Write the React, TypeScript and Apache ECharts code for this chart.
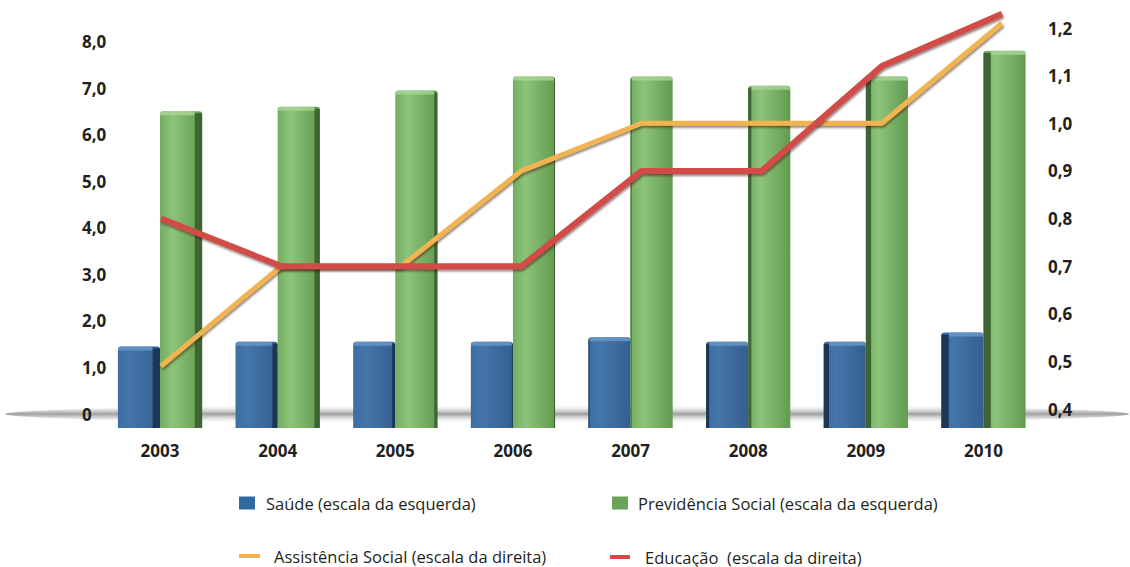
import React, { useEffect, useRef } from 'react';
import * as echarts from 'echarts';

// ---- data ----
const years = ['2003', '2004', '2005', '2006', '2007', '2008', '2009', '2010'];
const saude = [1.45, 1.55, 1.55, 1.55, 1.65, 1.55, 1.55, 1.75];
const previdencia = [6.5, 6.6, 6.95, 7.25, 7.25, 7.05, 7.25, 7.8];
const assistencia = [0.49, 0.7, 0.7, 0.9, 1.0, 1.0, 1.0, 1.21];
const educacao = [0.8, 0.7, 0.7, 0.7, 0.9, 0.9, 1.12, 1.23];

const nameSaude = 'Saúde (escala da esquerda)';
const namePrev = 'Previdência Social (escala da esquerda)';
const nameAssist = 'Assistência Social (escala da direita)';
const nameEduc = 'Educação  (escala da direita)';

const TEXT = '#231f20';
const FONT = "'Open Sans', 'Noto Sans', sans-serif";
const FLOOR = 14; // depth of the 3-D floor below the zero line (style)

const fmt = (v: number) => (v === 0 ? '0' : v.toFixed(1).replace('.', ','));

type Palette = { light: string; mid: string; dark: string; side: string; cap: string };
const bluePal: Palette = { light: '#4476aa', mid: '#3d6ea1', dark: '#345f8e', side: '#1e3653', cap: '#6a98c8' };
const greenPal: Palette = { light: '#8cc47a', mid: '#74ad62', dark: '#629b50', side: '#3f6433', cap: '#a9d696' };

function makeBar(p: Palette, leftSide: boolean) {
  return (params: any, api: any) => {
    const idx = api.value(0);
    const val = api.value(1);
    const top = api.coord([idx, val]);
    const base = api.coord([idx, 0]);
    const band = api.size([1, 0])[0];
    const w = band * 0.358;
    const x0 = leftSide ? top[0] - w : top[0];
    const y0 = top[1];
    const y1 = base[1] + FLOOR;
    const h = y1 - y0;
    const depth = (idx - 3.5) * 2.1;
    const sw = Math.abs(depth);
    const sx = depth < 0 ? x0 + w - sw : x0;
    const fx = depth < 0 ? x0 : x0 + sw;
    return {
      type: 'group',
      children: [
        {
          type: 'rect',
          shape: { x: x0, y: y0, width: w, height: h, r: [3, 3, 0, 0] },
          style: {
            fill: new echarts.graphic.LinearGradient(0, 0, 1, 0, [
              { offset: 0, color: p.mid },
              { offset: 0.3, color: p.light },
              { offset: 1, color: p.dark },
            ]),
          },
        },
        {
          type: 'rect',
          shape: { x: sx, y: y0 + 2, width: sw, height: h - 2 },
          style: { fill: p.side },
        },
        {
          type: 'rect',
          shape: { x: fx, y: y0, width: w - sw, height: 4, r: [3, 3, 0, 0] },
          style: { fill: p.cap, opacity: 0.8 },
        },
      ],
    };
  };
}

export default function App() {
  const ref = useRef<HTMLDivElement>(null);
  useEffect(() => {
    if (!ref.current) return;
    const chart = echarts.init(ref.current, undefined, { renderer: 'svg' });
    const legendText = { fontSize: 16.5, fontFamily: FONT, color: TEXT, lineHeight: 18 };
    chart.setOption({
      animation: false,
      backgroundColor: '#ffffff',
      graphic: [
        {
          type: 'ellipse',
          z: 0,
          silent: true,
          shape: { cx: 567, cy: 414, rx: 562, ry: 10 },
          style: {
            fill: new echarts.graphic.LinearGradient(0, 0, 0, 1, [
              { offset: 0, color: 'rgba(255,255,255,0)' },
              { offset: 0.5, color: 'rgba(125,125,125,0.75)' },
              { offset: 1, color: 'rgba(255,255,255,0)' },
            ]),
          },
        },
      ],
      grid: [
        { left: 101.2, right: 87.7, top: 41.5, bottom: 153 },
        { left: 101, right: 68, top: 28, bottom: 158 },
      ],
      xAxis: [
        {
          gridIndex: 0,
          type: 'category',
          data: years,
          axisLine: { show: false },
          axisTick: { show: false },
          axisLabel: { margin: 28, fontSize: 17, fontWeight: 'bold', color: TEXT, fontFamily: FONT },
        },
        { gridIndex: 1, type: 'category', data: years, show: false },
      ],
      yAxis: [
        {
          gridIndex: 0,
          type: 'value',
          position: 'left',
          min: 0,
          max: 8,
          interval: 1,
          axisLine: { show: false },
          axisTick: { show: false },
          splitLine: { show: false },
          axisLabel: {
            align: 'left',
            margin: 19.2,
            fontSize: 17,
            fontWeight: 'bold',
            color: TEXT,
            fontFamily: FONT,
            formatter: fmt,
          },
        },
        {
          gridIndex: 1,
          type: 'value',
          position: 'right',
          min: 0.4,
          max: 1.2,
          interval: 0.1,
          axisLine: { show: false },
          axisTick: { show: false },
          splitLine: { show: false },
          axisLabel: {
            align: 'left',
            margin: -14,
            fontSize: 17,
            fontWeight: 'bold',
            color: TEXT,
            fontFamily: FONT,
            formatter: fmt,
          },
        },
      ],
      legend: [
        {
          data: [nameSaude], left: 239, top: 494, padding: 0, icon: 'rect',
          itemWidth: 16, itemHeight: 13, textStyle: { ...legendText, padding: [0, 0, 0, 6] },
        },
        {
          data: [namePrev], left: 612, top: 494, padding: 0, icon: 'rect',
          itemWidth: 16, itemHeight: 13, textStyle: { ...legendText, padding: [0, 0, 0, 5] },
        },
        {
          data: [nameAssist], left: 239, top: 547, padding: 0, icon: 'rect',
          itemWidth: 21, itemHeight: 4, textStyle: { ...legendText, padding: [0, 0, 0, 9] },
        },
        {
          data: [nameEduc], left: 610, top: 548, padding: 0, icon: 'rect',
          itemWidth: 20, itemHeight: 4, textStyle: { ...legendText, padding: [0, 0, 0, 10] },
        },
      ],
      series: [
        {
          name: nameSaude,
          type: 'custom',
          xAxisIndex: 0,
          yAxisIndex: 0,
          itemStyle: { color: '#2f6aa2' },
          renderItem: makeBar(bluePal, true),
          data: saude.map((v, i) => [i, v]),
          z: 2,
        },
        {
          name: namePrev,
          type: 'custom',
          xAxisIndex: 0,
          yAxisIndex: 0,
          itemStyle: { color: '#6aa457' },
          renderItem: makeBar(greenPal, false),
          data: previdencia.map((v, i) => [i, v]),
          z: 2,
        },
        {
          name: nameAssist,
          type: 'line',
          xAxisIndex: 1,
          yAxisIndex: 1,
          color: '#f2b452',
          symbol: 'none',
          clip: false,
          z: 3,
          lineStyle: {
            width: 5,
            color: '#f2b452',
            shadowColor: 'rgba(60,35,0,0.55)',
            shadowBlur: 2,
            shadowOffsetY: 2,
            shadowOffsetX: 1,
          },
          data: assistencia,
        },
        {
          name: nameEduc,
          type: 'line',
          xAxisIndex: 1,
          yAxisIndex: 1,
          color: '#d24b46',
          symbol: 'none',
          clip: false,
          z: 4,
          lineStyle: {
            width: 6,
            color: '#d24b46',
            shadowColor: 'rgba(60,10,10,0.55)',
            shadowBlur: 2,
            shadowOffsetY: 2,
            shadowOffsetX: 1,
          },
          data: educacao,
        },
      ],
    });
    return () => chart.dispose();
  }, []);
  return (
    <div
      ref={ref}
      style={{ position: 'fixed', left: 0, top: 0, width: 1130, height: 567, background: '#fff' }}
    />
  );
}
